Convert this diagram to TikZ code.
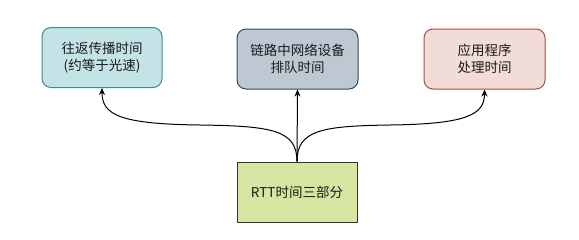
\documentclass[tikz,border=0pt]{standalone}
\usepackage{fontspec}
\setmainfont{Noto Sans CJK SC}
\usetikzlibrary{arrows.meta}
\definecolor{f1}{HTML}{C4E3E6}
\definecolor{s1}{HTML}{3E8A91}
\definecolor{f2}{HTML}{BDC8D2}
\definecolor{s2}{HTML}{2D4A5F}
\definecolor{f3}{HTML}{F2DCD8}
\definecolor{s3}{HTML}{A84F45}
\definecolor{f4}{HTML}{D6E6A0}
\definecolor{s4}{HTML}{333333}
\definecolor{txt}{HTML}{1A1A1A}
\begin{document}
\begin{tikzpicture}[x=1pt,y=-1pt,
  box/.style={minimum width=120pt,minimum height=60pt,align=center,line width=1pt,
    font=\fontsize{13.5}{17}\selectfont,text=txt,inner sep=0pt},
  rbox/.style={box,rounded corners=9pt},
  conn/.style={line width=1pt,-{Stealth[length=7pt,width=6pt]}}]
\useasboundingbox (0,0) rectangle (579,239);
\node[rbox,draw=s1,fill=f1] (b1) at (102,57.5) {往返传播时间\\(约等于光速)};
\node[rbox,draw=s2,fill=f2,minimum width=121pt] (b2) at (297.5,59) {链路中网络设备\\排队时间};
\node[rbox,draw=s3,fill=f3,minimum width=121pt] (b3) at (484.5,59) {应用程序\\处理时间};
\node[box,draw=s4,fill=f4] (bot) at (297,192) {RTT时间三部分};
\draw[conn] (bot.north) -- (b2.south);
\draw[conn] (bot.north) .. controls (297,130) and (272,126) .. (200,125)
  .. controls (120,124) and (102,115) .. (b1.south);
\draw[conn] (bot.north) .. controls (297,130) and (322,126) .. (390,125)
  .. controls (466,124) and (484.5,115) .. (b3.south);
\end{tikzpicture}
\end{document}
